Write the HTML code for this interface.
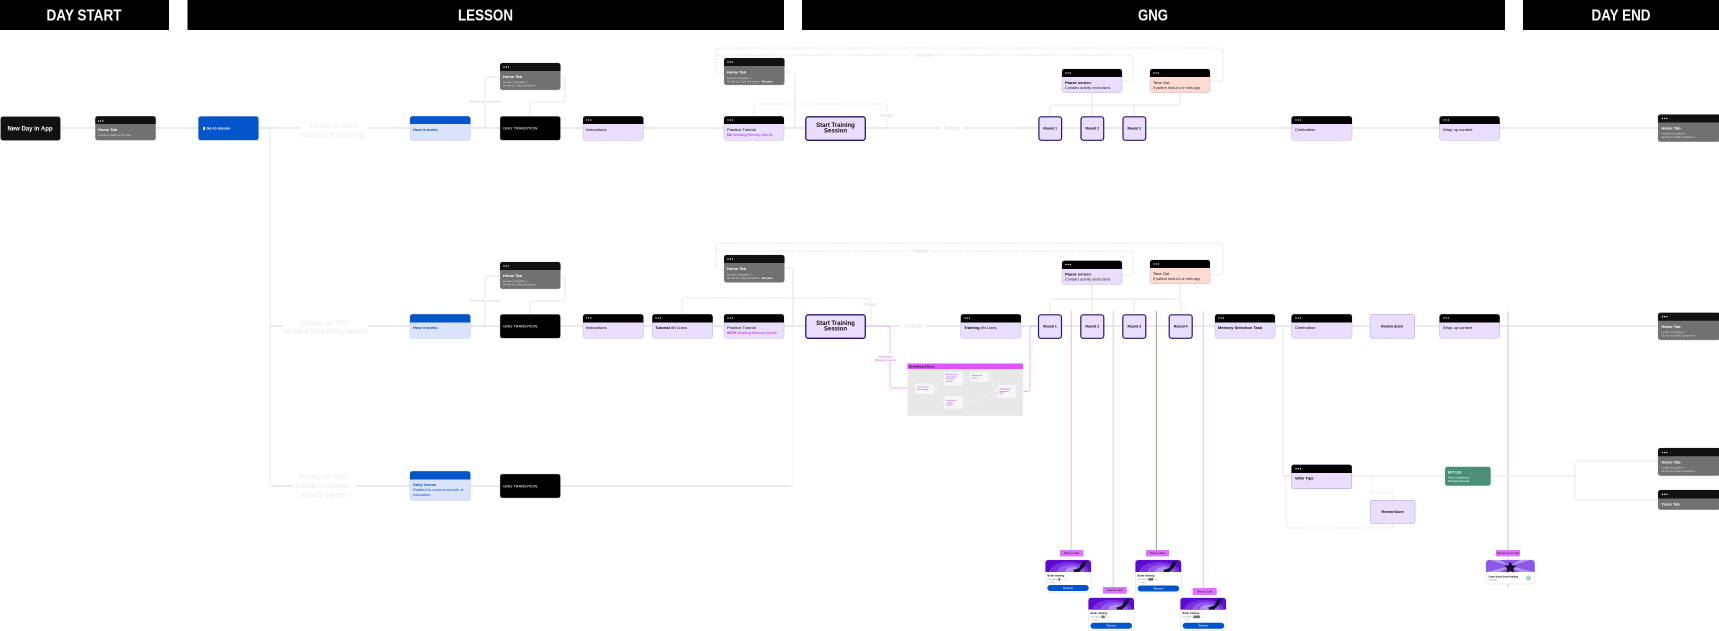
<!DOCTYPE html>
<html><head><meta charset="utf-8"><title>Flow</title>
<style>
html,body{margin:0;padding:0;background:#fff;width:1719px;height:631px;overflow:hidden}
svg{display:block;font-family:"Liberation Sans",sans-serif}
.l{fill:none;stroke:#dedede;stroke-width:1.2}
.f{fill:none;stroke:#e6e6e6;stroke-width:1}
.d{fill:none;stroke:#cfcfcf;stroke-width:.8;stroke-dasharray:1.4 1.4}
.p{fill:none;stroke:#e48af8;stroke-width:.9;stroke-dasharray:1.4 .7}
.g{fill:#fff;stroke:#d8d8d8;stroke-width:.14;font-size:6.8px;text-anchor:middle}
.gs{fill:#fff;stroke:#cfcfcf;stroke-width:.14;font-size:4.2px;text-anchor:middle}
.h{fill:#fff;font-weight:700;font-size:16px;text-anchor:middle}
.t{font-size:4px;fill:#000}
.ts{font-size:3.6px;fill:#222}
.w{font-size:4px;fill:#fff}
.ws{font-size:2.8px;fill:#ddd}
.b{font-size:4px;fill:#0a50c8}
.m{font-size:3.7px;fill:#c81ef0}
.c{font-size:3.4px;fill:#000;text-anchor:middle;font-weight:700}
.tag{font-size:2.4px;fill:#111;text-anchor:middle}
.i{font-size:1.8px;fill:#a020d0}
</style></head><body>
<svg width="1719" height="631" viewBox="0 0 1719 631" xmlns="http://www.w3.org/2000/svg">
<defs>
<symbol id="dots" viewBox="0 0 8 2" overflow="visible"><circle cx="1" cy="1" r=".65" fill="#fff"/><circle cx="3.2" cy="1" r=".65" fill="#fff"/><circle cx="5.4" cy="1" r=".65" fill="#fff"/></symbol>
<symbol id="chd" viewBox="0 0 46 12">
<path d="M0 12V3a3 3 0 0 1 3-3h40a3 3 0 0 1 3 3v9z" fill="#5e0bd0"/>
<ellipse cx="24" cy="12" rx="20" ry="10" fill="#7a30e0"/>
<ellipse cx="26" cy="12" rx="14" ry="7.5" fill="#9058ec"/>
<ellipse cx="28" cy="12" rx="8" ry="5" fill="#b490f4"/>
<path d="M28 10l6-2 4-7h4l-3 6-5 5h-5z" fill="#14102a"/>
</symbol>
</defs>
<rect width="1719" height="631" fill="#fff"/>

<!-- section headers -->
<rect x="0" y="0" width="169" height="30" fill="#000"/>
<rect x="187.5" y="0" width="596.5" height="30" fill="#000"/>
<rect x="802" y="0" width="703" height="30" fill="#000"/>
<rect x="1523" y="0" width="196" height="30" fill="#000"/>
<text class="h" x="84" y="20.5" textLength="75" lengthAdjust="spacingAndGlyphs">DAY START</text>
<text class="h" x="485.5" y="20.5" textLength="55" lengthAdjust="spacingAndGlyphs">LESSON</text>
<text class="h" x="1153" y="20.5" textLength="30" lengthAdjust="spacingAndGlyphs">GNG</text>
<text class="h" x="1621" y="20.5" textLength="59" lengthAdjust="spacingAndGlyphs">DAY END</text>

<!-- main lines -->
<path class="l" d="M60 128H1658"/>
<path d="M270 128V483a3 3 0 0 0 3 3" fill="none" stroke="#ececec" stroke-width="1.2"/>
<path class="l" d="M258 128H270M273 486H790"/>
<path class="l" d="M270 326H1658"/>
<path d="M790 486a3 3 0 0 0 3-3V326" fill="none" stroke="#f4f4f4" stroke-width="1"/>
<path class="f" d="M793 326V270a2 2 0 0 0-2-2H785"/>
<path class="f" d="M795 128V75a3 3 0 0 0-3-3H785"/>

<!-- row 1 branches -->
<path class="f" d="M485 128V80a3 3 0 0 1 3-3H500"/>
<path class="f" d="M560 77H562a3 3 0 0 1 3 3V99a3 3 0 0 1-3 3H533a3 3 0 0 0-3 3V116"/>
<path class="f" d="M485 326V279a3 3 0 0 1 3-3H500"/>
<path class="f" d="M560 276H562a3 3 0 0 1 3 3V298a3 3 0 0 1-3 3H533a3 3 0 0 0-3 3V314"/>
<rect x="463" y="99" width="44" height="4" fill="#fff"/>
<text class="gs" x="485" y="102.5" style="font-size:3px">Practice tab unavailable</text>
<rect x="463" y="298" width="44" height="4" fill="#fff"/>
<text class="gs" x="485" y="301.5" style="font-size:3px">Practice tab unavailable</text>

<!-- dashed loops row 1 -->
<path class="d" d="M724 73H719a3 3 0 0 1-3-3V51a3 3 0 0 1 3-3H1220a3 3 0 0 1 3 3V78a3 3 0 0 1-3 3H1210"/>
<path class="d" d="M716 55H1130a3 3 0 0 1 3 3V78a3 3 0 0 1-3 3H1122"/>
<path class="d" d="M754 116V107a3 3 0 0 1 3-3H884a3 3 0 0 1 3 3V128"/>
<rect x="875" y="113" width="24" height="5" fill="#fff"/>
<text class="gs" x="887" y="117">Restart</text>
<rect x="940" y="126" width="24" height="5" fill="#fff"/>
<text class="gs" x="952" y="129.5">Continue</text>
<rect x="905" y="52" width="22" height="6" fill="#fff"/>
<text class="gs" x="923" y="56.5">Continue</text>
<path class="f" d="M1092 93V116M1050 116V107a2 2 0 0 1 2-2H1178a2 2 0 0 0 2-2V93M1134 105V116"/>

<!-- dashed loops row 2 -->
<path class="d" d="M724 270H719a3 3 0 0 1-3-3V246a3 3 0 0 1 3-3H1220a3 3 0 0 1 3 3V272a3 3 0 0 1-3 3H1210"/>
<path class="d" d="M716 251H1130a3 3 0 0 1 3 3V272a3 3 0 0 1-3 3H1122"/>
<path class="d" d="M682 314V301a3 3 0 0 1 3-3H868a3 3 0 0 1 3 3V326"/>
<rect x="858" y="302" width="24" height="5" fill="#fff"/>
<text class="gs" x="870" y="306">Restart</text>
<rect x="900" y="324" width="26" height="5" fill="#fff"/>
<text class="gs" x="913" y="327.5">Continue</text>
<rect x="908" y="248" width="22" height="6" fill="#fff"/>
<text class="gs" x="920" y="252.5">Continue</text>
<path class="f" d="M1092 284V314M1050 314V302a3 3 0 0 1 3-3H1178a3 3 0 0 1 3 3V314M1134 299V314M1180 284V299"/>

<!-- labels -->
<rect x="300" y="118" width="68" height="20" fill="#fff"/>
<text class="g" x="333" y="128">1st day on GNG</text>
<text class="g" x="333" y="137">tutorial &amp; first training</text>
<rect x="283" y="316" width="85" height="20" fill="#fff"/>
<text class="g" x="325" y="325">2nd day on GNG</text>
<text class="g" x="325" y="333">tutorial &amp; full training session</text>
<rect x="293" y="472" width="63" height="28" fill="#fff"/>
<text class="g" x="323" y="479">3rd day on GNG</text>
<text class="g" x="323" y="488">tutorial completed</text>
<text class="g" x="323" y="497">already trained</text>

<!-- vertical timeline lines -->
<path d="M1071.3 311V552" stroke="#e7c7f2" stroke-width="1.2"/>
<path d="M1113.2 311V590" stroke="#e4d2ee" stroke-width="1.2"/>
<path d="M1156.4 311V552" stroke="#c69dd4" stroke-width="1.2"/>
<path d="M1203.2 311V590" stroke="#e8ccf0" stroke-width="1.2"/>
<path d="M1508 311V588" stroke="#e3d3ea" stroke-width="1.4"/>

<!-- lower right -->
<path class="f" d="M1283 326V476H1291"/>
<path class="l" d="M1352 476H1445M1490 476H1572a3 3 0 0 1 3 3V497a3 3 0 0 0 3 3H1658M1575 479V464a3 3 0 0 1 3-3H1658" style="stroke:#ededed"/>
<path class="d" d="M1286 476V525a3 3 0 0 0 3 3H1390a3 3 0 0 0 3-3V523"/>
<path class="d" d="M1371 476V490a3 3 0 0 0 3 3H1390a3 3 0 0 1 3 3V500"/>
<rect x="1360" y="482" width="22" height="3" fill="#fff"/>

<!-- pink flow -->
<path class="p" d="M866 326H887a3 3 0 0 1 3 3V385a3 3 0 0 0 3 3H912"/>
<rect x="877" y="353" width="18" height="8" fill="#fff"/>
<text x="885.5" y="357.5" style="font-size:2.8px;text-anchor:middle;fill:#d64ff0">Application</text>
<text x="885.5" y="361" style="font-size:2.8px;text-anchor:middle;fill:#d64ff0">Working memory</text>
<path class="p" d="M1016 391.5H1027a3 3 0 0 0 3-3V329a3 3 0 0 1 3-3H1037"/>

<!-- group box -->
<rect x="907.5" y="363.5" width="115.5" height="52.5" fill="#e8e8e8" stroke="#f4f4f4" stroke-width=".5"/>
<rect x="907.5" y="363.5" width="115.5" height="5.5" fill="#dd55ff"/>
<text x="909" y="367.5" style="font-size:3px;fill:#111;font-weight:700">Benefiting Effects</text>
<path d="M934 388C940 388 938 378.5 943.7 378.5M934 388C940 388 938 402 943.7 402M963 377H970M988.7 377C994 377 992 391 997.3 391M963 402H975C985 402 985 391 997.3 391" fill="none" stroke="#f6f6f6" stroke-width=".7"/>
<rect x="915" y="383.3" width="19" height="10.7" rx="2" fill="#f6f6f6"/>
<rect x="943.7" y="371.7" width="19.3" height="14" rx="2" fill="#f6f6f6"/>
<rect x="969.7" y="371.7" width="19" height="10" rx="2" fill="#f6f6f6"/>
<rect x="943.7" y="396" width="19.3" height="12.7" rx="2" fill="#f6f6f6"/>
<rect x="997.3" y="385.3" width="19" height="12.7" rx="2" fill="#f6f6f6"/>
<text class="i" x="917" y="387.5">Doing exercise</text><text class="i" x="917" y="389.8">when tracking</text>
<text class="i" x="946" y="375">Attention more</text><text class="i" x="946" y="377.3">easily stayed</text><text class="i" x="946" y="379.6">memory of</text><text class="i" x="946" y="381.9">exercise</text>
<text class="i" x="972" y="376">Benefits you</text><text class="i" x="972" y="378.3">recieve</text>
<text class="i" x="946" y="401">Less effort to</text><text class="i" x="946" y="403.3">complete</text><text class="i" x="946" y="405.6">exercise</text>
<text class="i" x="999.5" y="389.5">Strengthened</text><text class="i" x="999.5" y="391.8">patterns for</text><text class="i" x="999.5" y="394.1">GNG</text>

<!-- ROW 1 NODES -->
<rect x="0.5" y="116.5" width="60" height="24" rx="2.5" fill="#111" stroke="#bbb" stroke-width=".4"/>
<text x="30" y="130.5" style="font-size:6px;fill:#fff;text-anchor:middle;font-weight:700">New Day in App</text>

<rect x="95.3" y="116.3" width="60.4" height="24" rx="2.5" fill="#717171" stroke="#aaa" stroke-width=".4"/>
<path d="M95.3 124V118.8a2.5 2.5 0 0 1 2.5-2.5h55.4a2.5 2.5 0 0 1 2.5 2.5V124z" fill="#111"/>
<use href="#dots" x="97.5" y="128" width="8" height="2" transform="translate(0 -8)"/>
<text class="w" x="98" y="131" style="font-weight:700">Home Tab</text>
<text class="ws" x="98" y="136">Continue Tasks for the day</text>

<rect x="198.3" y="116.3" width="60.3" height="24" rx="2.5" fill="#0055cc" stroke="#a8c4f0" stroke-width=".5"/>
<text x="203" y="129.5" style="font-size:4px;fill:#fff;font-weight:700">▮ Go to lesson</text>

<!-- how it works 1 -->
<rect x="410" y="116.3" width="60.4" height="24" rx="2.5" fill="#dbe4fd" stroke="#bdc6e2" stroke-width=".5"/>
<path d="M410 124V118.8a2.5 2.5 0 0 1 2.5-2.5h55.4a2.5 2.5 0 0 1 2.5 2.5V124z" fill="#0055cc"/>
<text class="b" x="413" y="131" style="font-weight:700">How it works</text>

<rect x="500" y="116.3" width="60.5" height="24" rx="2.5" fill="#000" stroke="#bbb" stroke-width=".4"/>
<text class="w" x="503" y="129.5">GNG TRANSITION</text>

<rect x="500" y="63" width="60.5" height="27" rx="2.5" fill="#717171" stroke="#bbb" stroke-width=".4"/>
<path d="M500 71V65.5a2.5 2.5 0 0 1 2.5-2.5h55.5a2.5 2.5 0 0 1 2.5 2.5V71z" fill="#111"/>
<use href="#dots" x="503" y="66" width="8" height="2"/>
<text class="w" x="503" y="78" style="font-weight:700">Home Tab</text>
<text class="ws" x="503" y="83">Lesson Complete ✓</text><text class="ws" x="503" y="86.5">Go-No-Go Task still active</text>

<rect x="583" y="116.3" width="60.4" height="24" rx="2.5" fill="#e9defe" stroke="#c2b5d6" stroke-width=".5"/>
<path d="M583 124V118.8a2.5 2.5 0 0 1 2.5-2.5h55.4a2.5 2.5 0 0 1 2.5 2.5V124z" fill="#000"/>
<use href="#dots" x="585.5" y="119" width="8" height="2"/>
<text class="t" x="586" y="131">Instructions</text>

<rect x="724" y="58" width="60.5" height="27" rx="2.5" fill="#717171" stroke="#bbb" stroke-width=".4"/>
<path d="M724 66V60.5a2.5 2.5 0 0 1 2.5-2.5h55.5a2.5 2.5 0 0 1 2.5 2.5V66z" fill="#111"/>
<use href="#dots" x="727" y="61" width="8" height="2"/>
<text class="w" x="727" y="73.5" style="font-weight:700">Home Tab</text>
<text class="ws" x="727" y="79">Lesson Complete ✓</text><text class="ws" x="727" y="82.5">Go-No-Go Task still active - <tspan fill="#fff" font-weight="700">Resume</tspan></text>

<rect x="724" y="116.3" width="60" height="24" rx="2.5" fill="#e9defe" stroke="#c2b5d6" stroke-width=".5"/>
<path d="M724 124V118.8a2.5 2.5 0 0 1 2.5-2.5h55a2.5 2.5 0 0 1 2.5 2.5V124z" fill="#000"/>
<use href="#dots" x="727" y="119" width="8" height="2"/>
<text class="t" x="727" y="131">Practice Tutorial</text>
<text class="m" x="727" y="136"><tspan font-weight="700">No</tspan> Working Memory Words</text>

<rect x="805.8" y="116.8" width="59.5" height="23.5" rx="2.5" fill="#e9defe" stroke="#2a1670" stroke-width="1.3"/>
<text x="835.5" y="127" style="font-size:6px;font-weight:700;text-anchor:middle;fill:#111">Start Training</text>
<text x="835.5" y="132.5" style="font-size:6px;font-weight:700;text-anchor:middle;fill:#111">Session</text>

<rect x="1038.9" y="116.8" width="22.7" height="23.5" rx="2.5" fill="#e9defe" stroke="#2a1670" stroke-width="1.2"/>
<text class="c" x="1050.2" y="129.5">Round 1</text>
<rect x="1081" y="116.8" width="22.7" height="23.5" rx="2.5" fill="#e9defe" stroke="#2a1670" stroke-width="1.2"/>
<text class="c" x="1092.3" y="129.5">Round 2</text>
<rect x="1123" y="116.8" width="22.7" height="23.5" rx="2.5" fill="#e9defe" stroke="#2a1670" stroke-width="1.2"/>
<text class="c" x="1134.3" y="129.5">Round 3</text>

<rect x="1062" y="69" width="60" height="23.7" rx="2.5" fill="#e9defe" stroke="#c2b5d6" stroke-width=".5"/>
<path d="M1062 77V71.5a2.5 2.5 0 0 1 2.5-2.5h55a2.5 2.5 0 0 1 2.5 2.5V77z" fill="#000"/>
<use href="#dots" x="1065" y="72" width="8" height="2"/>
<text class="t" x="1065" y="84" style="font-weight:700">Pause screen</text>
<text class="ts" x="1065" y="89">Contains activity instructions</text>

<rect x="1150" y="69" width="60" height="23.7" rx="2.5" fill="#fddcd4" stroke="#d4b5ae" stroke-width=".5"/>
<path d="M1150 77V71.5a2.5 2.5 0 0 1 2.5-2.5h55a2.5 2.5 0 0 1 2.5 2.5V77z" fill="#000"/>
<use href="#dots" x="1153" y="72" width="8" height="2"/>
<text class="t" x="1153" y="84">Time Out</text>
<text class="ts" x="1153" y="89">If patient hard-k's or exits app</text>

<rect x="1291.5" y="116.3" width="60.5" height="24" rx="2.5" fill="#e9defe" stroke="#c2b5d6" stroke-width=".5"/>
<path d="M1291.5 124V118.8a2.5 2.5 0 0 1 2.5-2.5h55.5a2.5 2.5 0 0 1 2.5 2.5V124z" fill="#000"/>
<use href="#dots" x="1295" y="119" width="8" height="2"/>
<text class="t" x="1295" y="131">Celebration</text>

<rect x="1439.5" y="116.3" width="60.2" height="24" rx="2.5" fill="#e9defe" stroke="#c2b5d6" stroke-width=".5"/>
<path d="M1439.5 124V118.8a2.5 2.5 0 0 1 2.5-2.5h55.2a2.5 2.5 0 0 1 2.5 2.5V124z" fill="#000"/>
<use href="#dots" x="1443" y="119" width="8" height="2"/>
<text class="t" x="1443" y="131">Wrap up content</text>

<rect x="1658" y="114.5" width="62" height="27.3" rx="2.5" fill="#717171" stroke="#aaa" stroke-width=".4"/>
<path d="M1658 122.5V117a2.5 2.5 0 0 1 2.5-2.5H1720v8z" fill="#111"/>
<use href="#dots" x="1661.5" y="117.5" width="8" height="2"/>
<text class="w" x="1661.5" y="129.5" style="font-weight:700">Home Tab</text>
<text class="ws" x="1661.5" y="134.5">Lesson Complete ✓</text><text class="ws" x="1661.5" y="138.2">Go-No-Go Task Complete ✓</text>

<!-- ROW 2 NODES -->
<rect x="410" y="314.3" width="60.4" height="24" rx="2.5" fill="#dbe4fd" stroke="#bdc6e2" stroke-width=".5"/>
<path d="M410 322.5V316.8a2.5 2.5 0 0 1 2.5-2.5h55.4a2.5 2.5 0 0 1 2.5 2.5V322.5z" fill="#0055cc"/>
<text class="b" x="413" y="329" style="font-weight:700">How it works</text>

<rect x="500" y="314.3" width="60.5" height="24" rx="2.5" fill="#000" stroke="#bbb" stroke-width=".4"/>
<text class="w" x="503" y="327.5">GNG TRANSITION</text>

<rect x="500" y="262" width="60.5" height="27" rx="2.5" fill="#717171" stroke="#bbb" stroke-width=".4"/>
<path d="M500 270V264.5a2.5 2.5 0 0 1 2.5-2.5h55.5a2.5 2.5 0 0 1 2.5 2.5V270z" fill="#111"/>
<use href="#dots" x="503" y="265" width="8" height="2"/>
<text class="w" x="503" y="277" style="font-weight:700">Home Tab</text>
<text class="ws" x="503" y="282">Lesson Complete ✓</text><text class="ws" x="503" y="285.5">Go-No-Go Task still active</text>

<rect x="583" y="314.3" width="60.4" height="24" rx="2.5" fill="#e9defe" stroke="#c2b5d6" stroke-width=".5"/>
<path d="M583 322.5V316.8a2.5 2.5 0 0 1 2.5-2.5h55.4a2.5 2.5 0 0 1 2.5 2.5V322.5z" fill="#000"/>
<use href="#dots" x="585.5" y="317" width="8" height="2"/>
<text class="t" x="586" y="329">Instructions</text>

<rect x="652.3" y="314.3" width="60.4" height="24" rx="2.5" fill="#e9defe" stroke="#c2b5d6" stroke-width=".5"/>
<path d="M652.3 322.5V316.8a2.5 2.5 0 0 1 2.5-2.5h55.4a2.5 2.5 0 0 1 2.5 2.5V322.5z" fill="#000"/>
<use href="#dots" x="655" y="317" width="8" height="2"/>
<text class="t" x="655.5" y="329"><tspan font-weight="700">Tutorial</tspan> #N Lions</text>

<rect x="724" y="255" width="60.5" height="27.5" rx="2.5" fill="#717171" stroke="#bbb" stroke-width=".4"/>
<path d="M724 263V257.5a2.5 2.5 0 0 1 2.5-2.5h55.5a2.5 2.5 0 0 1 2.5 2.5V263z" fill="#111"/>
<use href="#dots" x="727" y="258" width="8" height="2"/>
<text class="w" x="727" y="270" style="font-weight:700">Home Tab</text>
<text class="ws" x="727" y="275.5">Lesson Complete ✓</text><text class="ws" x="727" y="279.2">Go-No-Go Task still active - <tspan fill="#fff" font-weight="700">Resume</tspan></text>

<rect x="724" y="314.3" width="60" height="24" rx="2.5" fill="#e9defe" stroke="#c2b5d6" stroke-width=".5"/>
<path d="M724 322.5V316.8a2.5 2.5 0 0 1 2.5-2.5h55a2.5 2.5 0 0 1 2.5 2.5V322.5z" fill="#000"/>
<use href="#dots" x="727" y="317" width="8" height="2"/>
<text class="t" x="727" y="329">Practice Tutorial</text>
<text class="m" x="727" y="334"><tspan font-weight="700">WITH</tspan> Working Memory Words</text>

<rect x="805.8" y="314.8" width="59.5" height="23.5" rx="2.5" fill="#e9defe" stroke="#2a1670" stroke-width="1.3"/>
<text x="835.5" y="325" style="font-size:6px;font-weight:700;text-anchor:middle;fill:#111">Start Training</text>
<text x="835.5" y="330.5" style="font-size:6px;font-weight:700;text-anchor:middle;fill:#111">Session</text>

<rect x="960.8" y="314.3" width="60.2" height="24" rx="2.5" fill="#e9defe" stroke="#c2b5d6" stroke-width=".5"/>
<path d="M960.8 322.5V316.8a2.5 2.5 0 0 1 2.5-2.5h55.2a2.5 2.5 0 0 1 2.5 2.5V322.5z" fill="#000"/>
<use href="#dots" x="964" y="317" width="8" height="2"/>
<text class="t" x="964" y="329"><tspan font-weight="700">Training</tspan> #N Lions</text>

<rect x="1038.5" y="314.8" width="23" height="23.5" rx="2.5" fill="#e9defe" stroke="#2a1670" stroke-width="1.2"/>
<text class="c" x="1050" y="327.5">Round 1</text>
<rect x="1080.8" y="314.8" width="23" height="23.5" rx="2.5" fill="#e9defe" stroke="#2a1670" stroke-width="1.2"/>
<text class="c" x="1092.3" y="327.5">Round 2</text>
<rect x="1122.8" y="314.8" width="23" height="23.5" rx="2.5" fill="#e9defe" stroke="#2a1670" stroke-width="1.2"/>
<text class="c" x="1134.3" y="327.5">Round 3</text>
<rect x="1169.2" y="314.8" width="23" height="23.5" rx="2.5" fill="#e9defe" stroke="#2a1670" stroke-width="1.2"/>
<text class="c" x="1180.7" y="327.5">Round 4</text>

<rect x="1062" y="260.7" width="60" height="23.7" rx="2.5" fill="#e9defe" stroke="#c2b5d6" stroke-width=".5"/>
<path d="M1062 269V263.2a2.5 2.5 0 0 1 2.5-2.5h55a2.5 2.5 0 0 1 2.5 2.5V269z" fill="#000"/>
<use href="#dots" x="1065" y="263.5" width="8" height="2"/>
<text class="t" x="1065" y="275.5" style="font-weight:700">Pause screen</text>
<text class="ts" x="1065" y="280.5">Contains activity instructions</text>

<rect x="1150" y="260" width="60" height="23.7" rx="2.5" fill="#fddcd4" stroke="#d4b5ae" stroke-width=".5"/>
<path d="M1150 268V262.5a2.5 2.5 0 0 1 2.5-2.5h55a2.5 2.5 0 0 1 2.5 2.5V268z" fill="#000"/>
<use href="#dots" x="1153" y="263" width="8" height="2"/>
<text class="t" x="1153" y="275">Time Out</text>
<text class="ts" x="1153" y="280">If patient hard-k's or exits app</text>

<rect x="1215" y="314.3" width="60" height="24" rx="2.5" fill="#e9defe" stroke="#c2b5d6" stroke-width=".5"/>
<path d="M1215 322.5V316.8a2.5 2.5 0 0 1 2.5-2.5h55a2.5 2.5 0 0 1 2.5 2.5V322.5z" fill="#000"/>
<use href="#dots" x="1218" y="317" width="8" height="2"/>
<text class="t" x="1218" y="329" style="font-weight:700">Memory Selection Task</text>

<rect x="1291.5" y="314.3" width="60.5" height="24" rx="2.5" fill="#e9defe" stroke="#c2b5d6" stroke-width=".5"/>
<path d="M1291.5 322.5V316.8a2.5 2.5 0 0 1 2.5-2.5h55.5a2.5 2.5 0 0 1 2.5 2.5V322.5z" fill="#000"/>
<use href="#dots" x="1295" y="317" width="8" height="2"/>
<text class="t" x="1295" y="329">Celebration</text>

<rect x="1370" y="314.3" width="44.7" height="24" rx="2.5" fill="#e9defe" stroke="#a078e0" stroke-width=".6" stroke-dasharray="1 .7"/>
<text class="c" x="1392.3" y="327.5">Review Score</text>

<rect x="1439.5" y="314.3" width="60.2" height="24" rx="2.5" fill="#e9defe" stroke="#c2b5d6" stroke-width=".5"/>
<path d="M1439.5 322.5V316.8a2.5 2.5 0 0 1 2.5-2.5h55.2a2.5 2.5 0 0 1 2.5 2.5V322.5z" fill="#000"/>
<use href="#dots" x="1443" y="317" width="8" height="2"/>
<text class="t" x="1443" y="329">Wrap up content</text>

<rect x="1658" y="312.7" width="62" height="27.3" rx="2.5" fill="#717171" stroke="#aaa" stroke-width=".4"/>
<path d="M1658 320.7V315.2a2.5 2.5 0 0 1 2.5-2.5H1720v8z" fill="#111"/>
<use href="#dots" x="1661.5" y="315.7" width="8" height="2"/>
<text class="w" x="1661.5" y="328" style="font-weight:700">Home Tab</text>
<text class="ws" x="1661.5" y="333">Lesson Complete ✓</text><text class="ws" x="1661.5" y="336.7">Go-No-Go Task Complete ✓</text>

<!-- ROW 3 NODES -->
<rect x="410" y="471.3" width="60.4" height="29" rx="2.5" fill="#dbe4fd" stroke="#bdc6e2" stroke-width=".5"/>
<path d="M410 479.5V473.8a2.5 2.5 0 0 1 2.5-2.5h55.4a2.5 2.5 0 0 1 2.5 2.5V479.5z" fill="#0055cc"/>
<text class="b" x="413" y="486" style="font-weight:700">Daily lesson</text>
<text class="b" x="413" y="491">Related to current module of</text>
<text class="b" x="413" y="496">education</text>

<rect x="500" y="474" width="60.5" height="24" rx="2.5" fill="#000" stroke="#bbb" stroke-width=".4"/>
<text class="w" x="503" y="487.3">GNG TRANSITION</text>

<!-- lower-right nodes -->
<rect x="1291.5" y="464.7" width="60.3" height="24" rx="2.5" fill="#e9defe" stroke="#a897bf" stroke-width=".5"/>
<path d="M1291.5 473V467.2a2.5 2.5 0 0 1 2.5-2.5h55.3a2.5 2.5 0 0 1 2.5 2.5V473z" fill="#000"/>
<use href="#dots" x="1295" y="467.7" width="8" height="2"/>
<text class="t" x="1295" y="479.5" style="font-weight:700">GNG Tips</text>

<rect x="1445" y="466.7" width="45.7" height="19" rx="2.5" fill="#4a9078"/>
<text x="1448" y="473.7" style="font-size:3.4px;fill:#fff;font-weight:700">EFT Lite</text>
<text x="1448" y="478.5" style="font-size:2.6px;fill:#dff">Short visualizing of</text>
<text x="1448" y="481.8" style="font-size:2.6px;fill:#dff">Motivational Goals</text>

<rect x="1370.3" y="500.3" width="44.7" height="23" rx="2.5" fill="#e9defe" stroke="#a070e0" stroke-width=".6" stroke-dasharray="1 .7"/>
<text class="c" x="1392.7" y="513">Review Score</text>

<rect x="1658" y="448" width="62" height="27.7" rx="2.5" fill="#717171" stroke="#aaa" stroke-width=".4"/>
<path d="M1658 456.3V450.5a2.5 2.5 0 0 1 2.5-2.5H1720v8.3z" fill="#111"/>
<use href="#dots" x="1661.5" y="451.5" width="8" height="2"/>
<text class="w" x="1661.5" y="463.5" style="font-weight:700">Home Tab</text>
<text class="ws" x="1661.5" y="468.5">Lesson Complete ✓</text><text class="ws" x="1661.5" y="472">Go-No-Go Task Complete ✓</text>

<rect x="1658" y="490" width="62" height="19.7" rx="2.5" fill="#717171" stroke="#aaa" stroke-width=".4"/>
<path d="M1658 498.5V492.5a2.5 2.5 0 0 1 2.5-2.5H1720v8.5z" fill="#111"/>
<use href="#dots" x="1661.5" y="493.3" width="8" height="2"/>
<text class="w" x="1661.5" y="505.5" style="font-weight:700">Tools Tab</text>

<!-- cards -->
<rect x="1045.5" y="560" width="45.5" height="33" rx="3" fill="#fff" stroke="#ddd" stroke-width=".5"/>
<use href="#chd" x="1045.3" y="560" width="45.7" height="12"/>
<text x="1047.5" y="576.5" style="font-size:2.6px;fill:#111;font-weight:700">Brain training</text>
<text x="1047.5" y="580" style="font-size:2.2px;fill:#666">Ctrl: Sticks █ □ □ □ □</text>
<text x="1047.5" y="583" style="font-size:2.2px;fill:#79a">⬚ Todo</text>
<rect x="1047.3" y="585" width="41.5" height="6" rx="3" fill="#0055cc"/>
<text x="1068" y="589" style="font-size:2.6px;fill:#fff;text-anchor:middle">Resume</text>

<rect x="1088.5" y="597.7" width="45.5" height="33" rx="3" fill="#fff" stroke="#ddd" stroke-width=".5"/>
<use href="#chd" x="1088.3" y="597.7" width="45.7" height="12"/>
<text x="1090.5" y="614" style="font-size:2.6px;fill:#111;font-weight:700">Brain training</text>
<text x="1090.5" y="617.3" style="font-size:2.2px;fill:#666">Ctrl: Sticks ██ □ □ □</text>
<text x="1090.5" y="620.3" style="font-size:2.2px;fill:#79a">⬚ Todo</text>
<rect x="1090.5" y="622.7" width="41.5" height="6" rx="3" fill="#0055cc"/>
<text x="1111.3" y="626.7" style="font-size:2.6px;fill:#fff;text-anchor:middle">Resume</text>

<rect x="1135.5" y="560" width="45.7" height="33" rx="3" fill="#fff" stroke="#ddd" stroke-width=".5"/>
<use href="#chd" x="1135.3" y="560" width="46" height="12"/>
<text x="1137.5" y="576.5" style="font-size:2.6px;fill:#111;font-weight:700">Brain training</text>
<text x="1137.5" y="580" style="font-size:2.2px;fill:#666">Ctrl: Sticks ███ □ □</text>
<text x="1137.5" y="583" style="font-size:2.2px;fill:#79a">⬚ Todo</text>
<rect x="1137.7" y="585.5" width="41.5" height="6" rx="3" fill="#0055cc"/>
<text x="1158.5" y="589.5" style="font-size:2.6px;fill:#fff;text-anchor:middle">Resume</text>

<rect x="1180.5" y="597.7" width="45.5" height="33" rx="3" fill="#fff" stroke="#ddd" stroke-width=".5"/>
<use href="#chd" x="1180.3" y="597.7" width="45.7" height="12"/>
<text x="1182.5" y="614" style="font-size:2.6px;fill:#111;font-weight:700">Brain training</text>
<text x="1182.5" y="617.3" style="font-size:2.2px;fill:#666">Ctrl: Sticks ████ □</text>
<text x="1182.5" y="620.3" style="font-size:2.2px;fill:#79a">⬚ Todo</text>
<rect x="1182.7" y="622.7" width="41.5" height="6" rx="3" fill="#0055cc"/>
<text x="1203.5" y="626.7" style="font-size:2.6px;fill:#fff;text-anchor:middle">Resume</text>

<!-- star card -->
<rect x="1486" y="560" width="48.7" height="24" rx="3" fill="#fff" stroke="#d4d4d4" stroke-width=".5"/>
<path d="M1486 572V563a3 3 0 0 1 3-3h42.7a3 3 0 0 1 3 3v9z" fill="#8a58e8"/>
<path d="M1510 566L1490 560H1500ZM1510 566L1530 560H1520ZM1510 566L1486 572H1500ZM1510 566L1534 572H1520Z" fill="#b79af2"/>
<path d="M1510.3 561.5l1.8 3.8 4.2.5-3.1 2.9.8 4.1-3.7-2-3.7 2 .8-4.1-3.1-2.9 4.2-.5z" fill="#14102a"/>
<text x="1488.5" y="577.5" style="font-size:2.4px;fill:#111;font-weight:700">Learn about brain training</text>
<text x="1488.5" y="580.5" style="font-size:2px;fill:#666">Complete</text>
<circle cx="1528.5" cy="578" r="2.7" fill="#b7d9c5"/>
<text x="1528.5" y="579.2" style="font-size:3px;text-anchor:middle;fill:#2a7">✓</text>

<!-- tags -->
<rect x="1060" y="550" width="23.3" height="6.4" fill="#e070ff"/><text class="tag" x="1071.6" y="554">Resume Card</text>
<rect x="1103" y="587" width="23.7" height="6.7" fill="#e070ff"/><text class="tag" x="1114.8" y="591.2">Resume Card</text>
<rect x="1146" y="550" width="23" height="6.4" fill="#e070ff"/><text class="tag" x="1157.5" y="554">Resume Card</text>
<rect x="1192.7" y="588" width="24" height="7" fill="#e070ff"/><text class="tag" x="1204.7" y="592.4">Resume Card</text>
<rect x="1496" y="550" width="24" height="6.4" fill="#e070ff"/><text class="tag" x="1508" y="554">Review Lesson Card</text>
</svg>
</body></html>
